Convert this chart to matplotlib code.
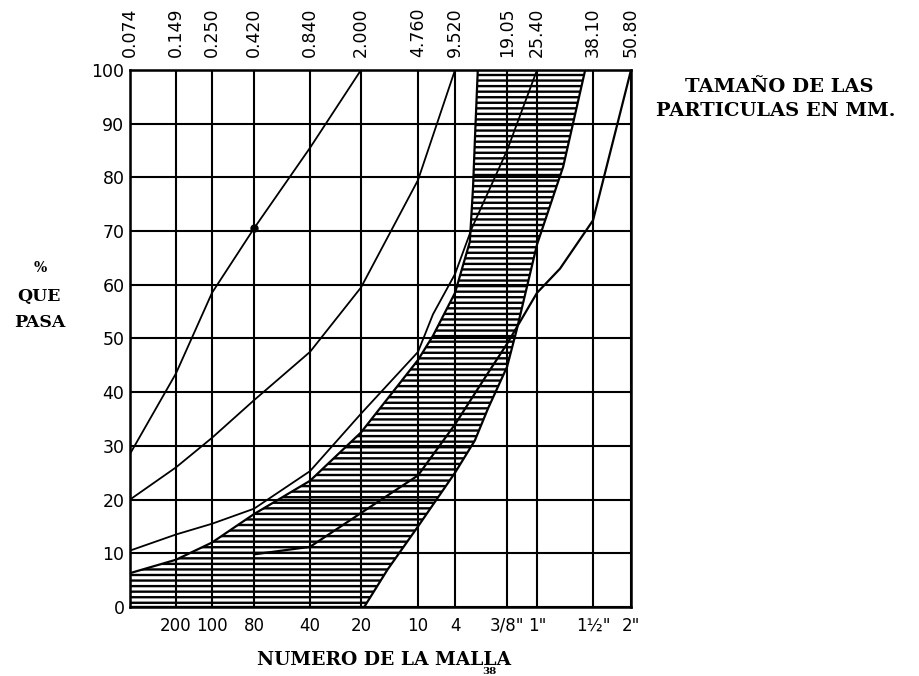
import numpy as np
import matplotlib
matplotlib.use('Agg')
import matplotlib.pyplot as plt

# sieve sizes (mm) of the chart grid and their labels
grid_mm = [0.074, 0.149, 0.250, 0.420, 0.840, 2.000, 4.760, 9.520, 19.05, 25.40, 38.10, 50.80]
top_labels = ['0.074', '0.149', '0.250', '0.420', '0.840', '2.000', '4.760', '9.520',
              '19.05', '25.40', '38.10', '50.80']
mesh_labels = ['', '200', '100', '80', '40', '20', '10', '4', '3/8"', '1"', '1½"', '2"']
pct_ticks = [0, 10, 20, 30, 40, 50, 60, 70, 80, 90, 100]

# curves: size (mm) vs % que pasa
curve_a_mm = [0.074, 0.149, 0.25, 0.42, 0.84, 2.0]
curve_a_pct = [28.5, 43.5, 58.5, 70.5, 85.5, 100]

curve_b_mm = [0.074, 0.149, 0.25, 0.42, 0.84, 2.0, 4.76, 9.52]
curve_b_pct = [20, 26, 31.5, 38.5, 47.5, 59.5, 79.5, 100]

curve_c_mm = [0.074, 0.149, 0.25, 0.42, 0.84, 2.0, 4.76, 6.3, 9.52, 11.9, 19.05, 25.4]
curve_c_pct = [10.5, 13.5, 15.5, 18.3, 25.3, 36, 47.5, 54.5, 62, 70.5, 85, 100]

curve_d_mm = [0.42, 0.84, 2.0, 4.76, 9.52, 14.8, 19.05, 25.4, 30.0, 38.1, 50.8]
curve_d_pct = [9.8, 11.2, 17.5, 24.5, 34, 43.6, 49, 58.5, 63, 72, 100]

# hatched band limits
band_top_mm = [0.074, 0.149, 0.25, 0.42, 0.84, 2.0, 4.76, 6.3, 9.52, 11.6, 12.1, 12.5, 12.9]
band_top_pct = [6.3, 8.8, 12, 17.3, 23.5, 32.5, 46, 50.5, 58.5, 68, 78, 89.5, 100]
band_low_mm = [0.074, 2.1, 3.0, 4.76, 9.52, 12.4, 14.8, 19.05, 20.9, 25.4, 30.7, 36.0]
band_low_pct = [0, 0, 7, 15, 25, 31, 37, 44.7, 51.6, 67.5, 82, 100]

# the printed chart spaces its sieves unevenly; relative spacing of the grid
grid_spacing = [0, 46, 82, 124, 180, 231, 288, 325, 377, 407, 463, 501]


def fwd(x):
    x = np.clip(np.asarray(x, dtype=float), 1e-6, None)
    return np.interp(np.log10(x), np.log10(grid_mm), grid_spacing)


def inv(p):
    return 10 ** np.interp(p, grid_spacing, np.log10(grid_mm))


plt.rcParams['hatch.linewidth'] = 1.7
plt.rcParams['font.family'] = ['DejaVu Sans']

fig = plt.figure(figsize=(9.2, 6.76), dpi=100)
ax = fig.add_axes([0.1413, 0.1021, 0.5446, 0.7944])
ax.set_xscale('function', functions=(fwd, inv))
ax.set_xlim(grid_mm[0], grid_mm[-1])
ax.set_ylim(0, 100)

# grid
for s in grid_mm:
    ax.axvline(s, color='black', lw=1.5, zorder=1)
for p in pct_ticks:
    ax.axhline(p, color='black', lw=1.5, zorder=1)

# hatched band
poly_x = np.concatenate([band_top_mm, band_low_mm[::-1]])
poly_y = np.concatenate([band_top_pct, band_low_pct[::-1]])
ax.fill(poly_x, poly_y, facecolor='none', edgecolor='black', hatch='---', lw=0, zorder=2)
ax.plot(band_top_mm, band_top_pct, color='black', lw=1.6, zorder=3)
ax.plot(band_low_mm, band_low_pct, color='black', lw=1.6, zorder=3)

# curves
ax.plot(curve_a_mm, curve_a_pct, color='black', lw=1.3, zorder=3,
        marker='o', ms=5, markevery=[3])
ax.plot(curve_b_mm, curve_b_pct, color='black', lw=1.3, zorder=3)
ax.plot(curve_c_mm, curve_c_pct, color='black', lw=1.3, zorder=3)
ax.plot(curve_d_mm, curve_d_pct, color='black', lw=1.6, zorder=3)

ax.set_xticks(grid_mm)
ax.set_xticklabels(mesh_labels)
ax.set_xticks([], minor=True)
ax.set_yticks(pct_ticks)
ax.set_yticklabels([str(p) for p in pct_ticks])
ax.tick_params(axis='x', length=0, pad=7, labelsize=12)
ax.tick_params(axis='y', length=0, pad=4, labelsize=12.5)
for sp in ax.spines.values():
    sp.set_linewidth(1.8)

ax2 = ax.twiny()
ax2.set_xscale('function', functions=(fwd, inv))
ax2.set_xlim(grid_mm[0], grid_mm[-1])
ax2.set_xticks(grid_mm)
ax2.set_xticklabels(top_labels, rotation=90)
ax2.set_xticks([], minor=True)
ax2.tick_params(axis='x', length=0, pad=9, labelsize=12.5)

# titles around the chart
serif = ['DejaVu Serif']
fig.text(779 / 920, 1 - 87 / 676, 'TAMAÑO DE LAS', ha='center', va='center',
         fontsize=14, fontweight='bold', family=serif)
fig.text(776 / 920, 1 - 111 / 676, 'PARTICULAS EN MM.', ha='center', va='center',
         fontsize=14, fontweight='bold', family=serif)
fig.text(40 / 920, 1 - 268 / 676, '%', ha='center', va='center',
         fontsize=10, fontweight='bold', family=serif)
fig.text(39 / 920, 1 - 296 / 676, 'QUE', ha='center', va='center',
         fontsize=12.5, fontweight='bold', family=serif)
fig.text(40 / 920, 1 - 323 / 676, 'PASA', ha='center', va='center',
         fontsize=12.5, fontweight='bold', family=serif)
fig.text(384 / 920, 1 - 660 / 676, 'NUMERO DE LA MALLA', ha='center', va='center',
         fontsize=13.5, fontweight='bold', family=serif)
fig.text(489 / 920, 1 - 672 / 676, '38', ha='center', va='center',
         fontsize=7.5, fontweight='bold', family=serif)

fig.savefig('out.png', dpi=100)
